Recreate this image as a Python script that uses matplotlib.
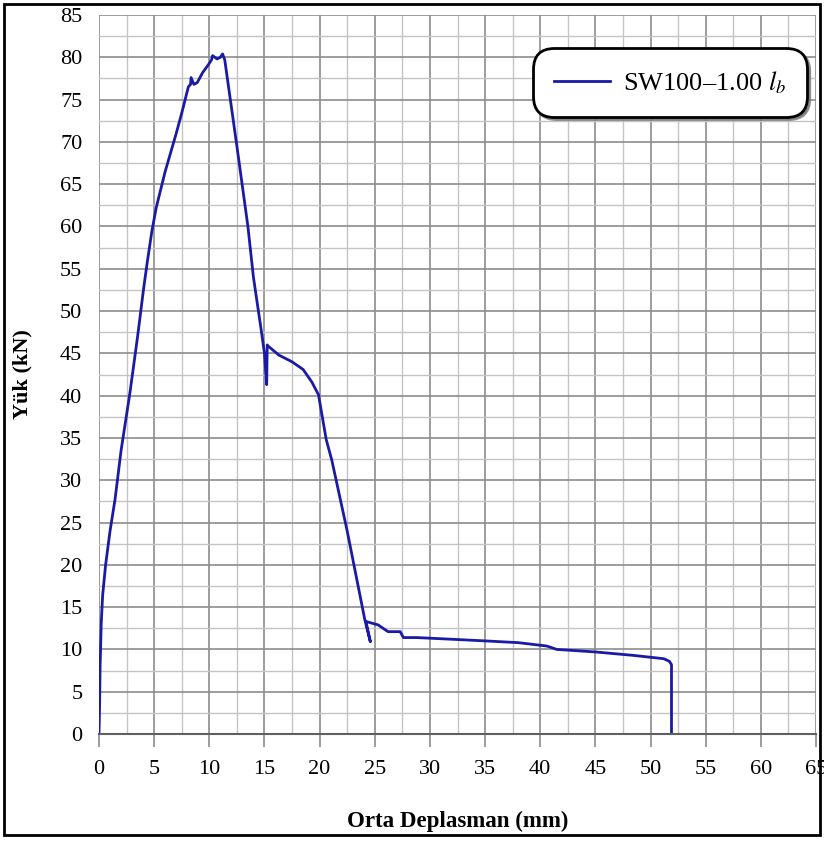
import matplotlib
matplotlib.use("Agg")
import matplotlib.pyplot as plt
from matplotlib.patches import Rectangle
from matplotlib.ticker import MultipleLocator

plt.rcParams["font.family"] = ["Liberation Serif", "DejaVu Serif"]
plt.rcParams["mathtext.fontset"] = "stix"

# load-displacement record of specimen SW100-1.00 lb
displacement = [0.0, 0.05, 0.1, 0.2, 0.33, 0.6, 1.0, 1.45, 2.0, 2.8, 3.5, 4.0, 4.1,
                4.4, 4.8, 5.2, 6.0, 7.0, 7.5, 8.1, 8.3, 8.35, 8.6, 8.9, 9.4, 9.9,
                10.2, 10.3, 10.7, 11.0, 11.2, 11.4, 12.5, 13.5, 14.0, 14.7, 15.0,
                15.2, 15.25, 15.3, 16.3, 17.5, 18.5, 19.3, 19.9, 20.6, 21.1, 22.5,
                24.1, 24.6, 24.2, 25.3, 26.2, 27.3, 27.6, 28.8, 32.0, 35.1, 38.0,
                40.6, 41.5, 45.0, 48.4, 51.2, 51.7, 51.9, 51.9]
load = [0.0, 3.0, 8.0, 13.0, 16.4, 20.0, 24.0, 27.7, 33.5, 40.3, 47.0, 52.2, 53.2,
        56.0, 59.5, 62.3, 66.5, 71.0, 73.4, 76.5, 76.8, 77.6, 76.8, 77.0, 78.2,
        79.1, 79.7, 80.2, 79.8, 80.0, 80.4, 79.7, 69.5, 60.0, 54.0, 47.8, 45.0,
        41.3, 46.0, 45.9, 44.8, 44.0, 43.1, 41.6, 40.1, 34.8, 32.4, 24.0, 13.5,
        10.9, 13.3, 12.9, 12.1, 12.1, 11.4, 11.4, 11.2, 11.0, 10.8, 10.4, 10.0,
        9.7, 9.3, 8.9, 8.6, 8.2, 0.0]

fig = plt.figure(figsize=(8.24, 8.41), dpi=100)
ax = fig.add_axes([99 / 824, 1 - 734 / 841, 717 / 824, 719 / 841])

ax.plot(displacement, load, color="#1a1aa6", linewidth=2.0,
        label="SW100\u20131.00 $l_b$", solid_joinstyle="round")

ax.set_xlim(0, 65)
ax.set_ylim(0, 85)
ax.xaxis.set_major_locator(MultipleLocator(5))
ax.yaxis.set_major_locator(MultipleLocator(5))
ax.xaxis.set_minor_locator(MultipleLocator(2.5))
ax.yaxis.set_minor_locator(MultipleLocator(2.5))
ax.grid(which="major", color="#8c8c8c", linewidth=1.2)
ax.grid(which="minor", color="#c4c4c4", linewidth=1.0)
ax.set_axisbelow(True)

for side in ["top", "right", "left"]:
    ax.spines[side].set_visible(False)
ax.spines["bottom"].set_color("#606060")
ax.spines["bottom"].set_linewidth(1.5)

ax.tick_params(axis="x", which="major", length=9, width=1.2, color="#8c8c8c",
               labelsize=16, pad=10)
ax.tick_params(axis="y", which="major", length=0, labelsize=16, pad=12)
ax.tick_params(which="minor", length=0)

ax.set_xlabel("Orta Deplasman (mm)", fontsize=16.5, fontweight="bold", va="center")
ax.set_ylabel("Yük (kN)", fontsize=16, fontweight="bold", va="center")
ax.xaxis.set_label_coords(0.5, -87 / 719)
ax.yaxis.set_label_coords(-77 / 717, 0.5)

leg = ax.legend(loc="upper right", bbox_to_anchor=(1 - 9 / 717, 1 - 33 / 719),
                fontsize=19, fancybox=True,
                shadow={"color": "#777777", "alpha": 0.8},
                framealpha=1, edgecolor="black", handlelength=2.1,
                borderpad=0.8, handletextpad=0.5, borderaxespad=0)
leg.get_frame().set_linewidth(2)
leg.get_frame().set_boxstyle("round", pad=0.0, rounding_size=0.8)

fig.patches.append(Rectangle((4 / 824, 6 / 841), 816 / 824, 831 / 841,
                             transform=fig.transFigure, fill=False,
                             edgecolor="black", linewidth=2))

fig.savefig("out.png", dpi=100)
